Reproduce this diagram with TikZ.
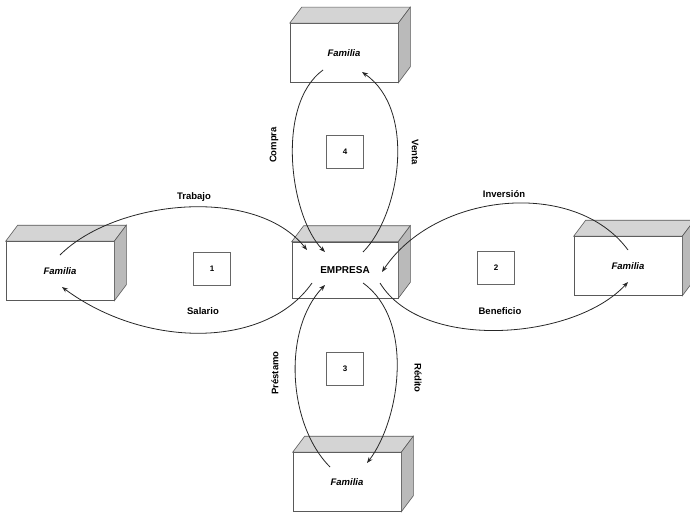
\documentclass[tikz,border=0pt]{standalone}
\usepackage{fontspec}
\setmainfont{Liberation Sans}
\usetikzlibrary{arrows.meta}
\tikzset{
  front/.style={draw=black!65, line width=0.6pt, fill=white, minimum width=108pt, minimum height=59pt, inner sep=0pt, font=\fontsize{9.5}{11}\selectfont\bfseries\itshape},
  topface/.style={draw=black!65, line width=0.6pt, fill=black!17},
  sideface/.style={draw=black!65, line width=0.6pt, fill=black!27},
  numbox/.style={draw=black!60, line width=0.5pt, minimum width=37pt, minimum height=33pt, inner sep=0pt, font=\fontsize{8}{10}\selectfont\bfseries},
  lab/.style={font=\fontsize{9.5}{11}\selectfont\bfseries, inner sep=1pt},
  flow/.style={line width=0.8pt, black!85, -{Stealth[length=6pt,width=4.5pt]}}
}
\newcommand{\cubeFaces}[1]{%
  \draw[topface] (#1.north west) -- ++(12,-16) -- ([shift={(12,-16)}]#1.north east) -- (#1.north east) -- cycle;
  \draw[sideface] (#1.north east) -- ++(12,-16) -- ([shift={(12,-16)}]#1.south east) -- (#1.south east) -- cycle;
}
\begin{document}
\begin{tikzpicture}[x=1pt,y=-1pt]
\useasboundingbox (0,0) rectangle (690,513);
% boxes
\node[front] (fT) at (344,53) {Familia};
\node[front, minimum width=106pt, minimum height=56pt, font=\fontsize{10}{12}\selectfont\bfseries] (emp) at (345,270) {EMPRESA};
\node[front] (fL) at (60,271) {Familia};
\node[front] (fR) at (628,266) {Familia};
\node[front] (fB) at (347,482) {Familia};
\cubeFaces{fT}
\cubeFaces{emp}
\cubeFaces{fL}
\cubeFaces{fR}
\cubeFaces{fB}
% number boxes
\node[numbox] (n1) at (212,269) {1};
\node[numbox] (n2) at (496,268) {2};
\node[numbox] (n3) at (345,369) {3};
\node[numbox] (n4) at (345,152) {4};
% endpoints
\coordinate (trA) at ([shift={(0,-16)}]fL.center);
\coordinate (trB) at ([shift={(-38,-20)}]emp.center);
\coordinate (saA) at ([shift={(-33,13)}]emp.center);
\coordinate (saB) at ([shift={(2,16)}]fL.center);
\coordinate (inA) at ([shift={(0,-16)}]fR.center);
\coordinate (inB) at ([shift={(37,2)}]emp.center);
\coordinate (beA) at ([shift={(35,13)}]emp.center);
\coordinate (beB) at ([shift={(0,16)}]fR.center);
\coordinate (coA) at ([shift={(-21,17)}]fT.center);
\coordinate (coB) at ([shift={(-20,-18)}]emp.center);
\coordinate (veA) at ([shift={(18,-18)}]emp.center);
\coordinate (veB) at ([shift={(18,19)}]fT.center);
\coordinate (prA) at ([shift={(-17,-15)}]fB.center);
\coordinate (prB) at ([shift={(-20,15)}]emp.center);
\coordinate (reA) at ([shift={(18,13)}]emp.center);
\coordinate (reB) at ([shift={(20,-19)}]fB.center);
% flows
\draw[flow] (trA) .. controls (115,200) and (255,185) .. (trB);
\draw[flow] (saA) .. controls (265,350) and (144,348) .. (saB);
\draw[flow] (inA) .. controls (575,178) and (435,192) .. (inB);
\draw[flow] (beA) .. controls (422,352) and (575,340) .. (beB);
\draw[flow] (coA) .. controls (275,105) and (290,217) .. (coB);
\draw[flow] (veA) .. controls (400,215) and (417,110) .. (veB);
\draw[flow] (prA) .. controls (288,425) and (282,330) .. (prB);
\draw[flow] (reA) .. controls (415,320) and (400,420) .. (reB);
% labels
\node[lab] (lTr) at (194,197) {Trabajo};
\node[lab] (lSa) at (203,311) {Salario};
\node[lab] (lIn) at (504,194) {Inversión};
\node[lab] (lBe) at (500,311) {Beneficio};
\node[lab, rotate=90] (lCo) at (274,145) {Compra};
\node[lab, rotate=-90] (lVe) at (415,152) {Venta};
\node[lab, rotate=90] (lPr) at (275,373) {Préstamo};
\node[lab, rotate=-90] (lRe) at (418,378) {Rédito};
\end{tikzpicture}
\end{document}
